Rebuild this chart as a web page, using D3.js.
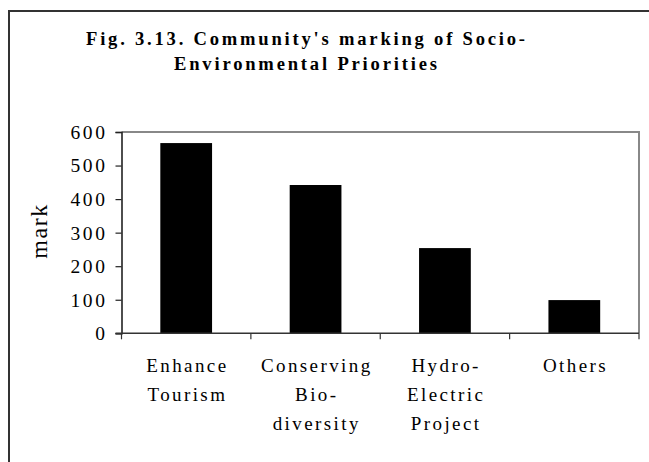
<!DOCTYPE html>
<html>
<head>
<meta charset="utf-8">
<script src="https://cdn.jsdelivr.net/npm/d3@7"></script>
<style>
  html, body { margin: 0; padding: 0; background: #fff; }
  svg { display: block; }
</style>
</head>
<body>
<svg id="chart" width="649" height="462"></svg>
<script>
const categories = ["Enhance Tourism", "Conserving Bio-diversity", "Hydro-Electric Project", "Others"];
const categoryLines = [["Enhance", "Tourism"], ["Conserving", "Bio-", "diversity"], ["Hydro-", "Electric", "Project"], ["Others"]];
const marks = [567, 442, 254, 99];
const yTicks = [0, 100, 200, 300, 400, 500, 600];
const titleLines = ["Fig. 3.13. Community's marking of Socio-", "Environmental Priorities"];
const yLabel = "mark";

(function () {
const svg = d3.select("#chart");
const pLeft = 121.5, pRight = 639, pTop = 132, pBottom = 333.3;

// outer frame (cropped at right and bottom)
svg.append("path")
  .attr("d", `M9,470 L9,11 L660,11`)
  .attr("fill", "none").attr("stroke", "#333").attr("stroke-width", 2);

// title
const titleW = [439, 263];
titleLines.forEach((t, i) => {
  svg.append("text")
    .attr("x", 305.5 - titleW[i] / 2)
    .attr("y", 45 + i * 25)
    .attr("textLength", titleW[i])
    .attr("lengthAdjust", "spacing")
    .attr("font-family", "'Liberation Serif', 'Times New Roman', serif")
    .attr("font-weight", "bold")
    .attr("font-size", 18.6)
    .attr("fill", "#000")
    .text(t);
});

const x = d3.scaleBand().domain(categories).range([pLeft, pRight]).paddingInner(0.6).paddingOuter(0.3);
const y = d3.scaleLinear().domain([0, 600]).range([pBottom, pTop]);

// plot border top & right
svg.append("path")
  .attr("d", `M${pLeft},${pTop} L${pRight},${pTop} L${pRight},${pBottom}`)
  .attr("fill", "none").attr("stroke", "#888").attr("stroke-width", 2);

// bars
svg.append("g").selectAll("rect").data(marks).join("rect")
  .attr("x", (d, i) => x(categories[i]))
  .attr("y", d => y(d))
  .attr("width", x.bandwidth())
  .attr("height", d => y(0) - y(d))
  .attr("fill", "#000");

// y axis
const yAxis = d3.axisLeft(y).tickValues(yTicks).tickSize(6).tickFormat(d3.format("d"));
const gy = svg.append("g").attr("transform", `translate(${pLeft},0)`).call(yAxis);
gy.select(".domain").attr("stroke", "#222").attr("stroke-width", 1.6);
gy.selectAll(".tick line").attr("stroke", "#222").attr("stroke-width", 1.2);
gy.selectAll(".tick text")
  .attr("x", -14)
  .attr("dy", "0.33em")
  .attr("font-family", "'Liberation Serif', 'Times New Roman', serif")
  .attr("font-size", 19.5)
  .attr("letter-spacing", "2.6px")
  .attr("fill", "#000");

// x axis: ticks at band boundaries
const xAxisG = svg.append("g");
xAxisG.append("line")
  .attr("x1", pLeft - 6).attr("x2", pRight)
  .attr("y1", pBottom).attr("y2", pBottom)
  .attr("stroke", "#333").attr("stroke-width", 1.6);
const step = x.step();
const boundaries = categories.map(c => x(c) - x.paddingOuter() * step).concat([pRight]);
xAxisG.selectAll("line.tk").data(boundaries).join("line")
  .attr("class", "tk")
  .attr("x1", d => d).attr("x2", d => d)
  .attr("y1", pBottom).attr("y2", pBottom + 6)
  .attr("stroke", "#333").attr("stroke-width", 1.2);

// category labels
categories.forEach((c, i) => {
  const cx = x(c) + x.bandwidth() / 2 + 1.2;
  categoryLines[i].forEach((ln, j) => {
    svg.append("text")
      .attr("x", cx)
      .attr("y", 371.5 + j * 29.3)
      .attr("text-anchor", "middle")
      .attr("font-family", "'Liberation Serif', 'Times New Roman', serif")
      .attr("font-size", 19)
      .attr("letter-spacing", "2.4px")
      .attr("fill", "#000")
      .text(ln);
  });
});

// y label
svg.append("text")
  .attr("transform", `translate(47,231) rotate(-90)`)
  .attr("text-anchor", "middle")
  .attr("font-family", "'Liberation Serif', 'Times New Roman', serif")
  .attr("font-size", 24)
  .attr("letter-spacing", "1.5px")
  .attr("fill", "#000")
  .text(yLabel);
})();
</script>
</body>
</html>
